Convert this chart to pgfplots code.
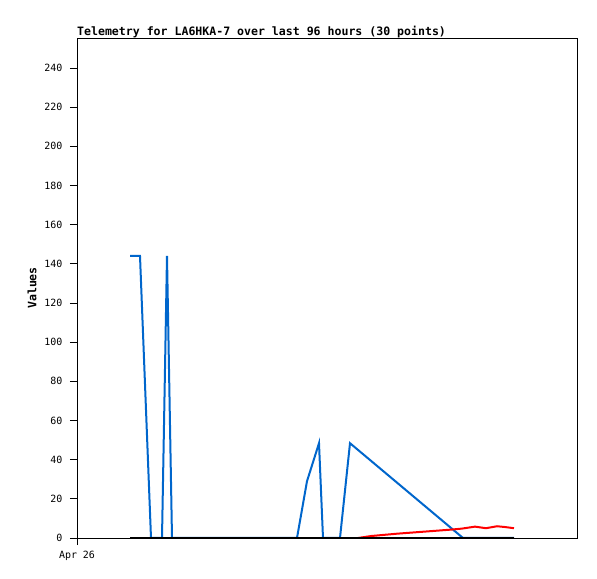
\documentclass[border=0pt]{standalone}
\usepackage{fontspec}
\setmainfont{DejaVu Sans Mono}
\usepackage{pgfplots}
\pgfplotsset{compat=1.18}
\definecolor{telblue}{HTML}{0066CC}
\begin{document}
\begin{tikzpicture}
\useasboundingbox (0,0) rectangle (597bp,579bp);
\begin{axis}[
    scale only axis,
    width=500bp, height=500bp,
    at={(77bp,41bp)}, anchor=south west,
    xmin=0, xmax=500,
    ymin=0, ymax=255.3,
    xtick={0}, xticklabels={Apr 26},
    ytick={0,20,...,240},
    tick align=outside,
    major tick length=7bp,
    tick pos=left,
    axis line style={line width=0.8bp},
    tick style={line width=0.8bp, black},
    /pgf/number format/assume math mode=true,
    tick label style={font=\fontsize{10}{11}\selectfont},
    yticklabel style={xshift=-4bp},
    xticklabel style={yshift=-3bp},
    title={\textbf{Telemetry for LA6HKA-7 over last 96 hours (30 points)}},
    title style={at={(0,1)}, anchor=base west, yshift=-3bp, inner sep=0pt,
                 font=\fontsize{11.6}{12}\selectfont},
    ylabel={\textbf{Values}},
    ylabel style={at={(axis description cs:-0.09,0.5)}, anchor=center,
                  font=\fontsize{11.6}{12}\selectfont},
    ]
% blue series
\addplot[telblue, line width=2bp] coordinates {
 (53,144) (63,144) (74,0) (85,0) (90,144) (95,0) (220,0)
 (230,29) (242,48.4) (246,0) (263,0) (273,48.4) (386,0) (437,0)};
% red series
\addplot[red, line width=2bp] coordinates {
 (281,0) (294,1.0) (307,1.6) (320,2.2) (333,2.7) (346,3.2) (359,3.7)
 (372,4.2) (385,4.8) (398,5.8) (409,5.0) (420,6.0) (428,5.6) (437,5.0)};
% black series
\addplot[black, line width=2bp] coordinates {(53,0) (437,0)};
\end{axis}
\end{tikzpicture}
\end{document}
